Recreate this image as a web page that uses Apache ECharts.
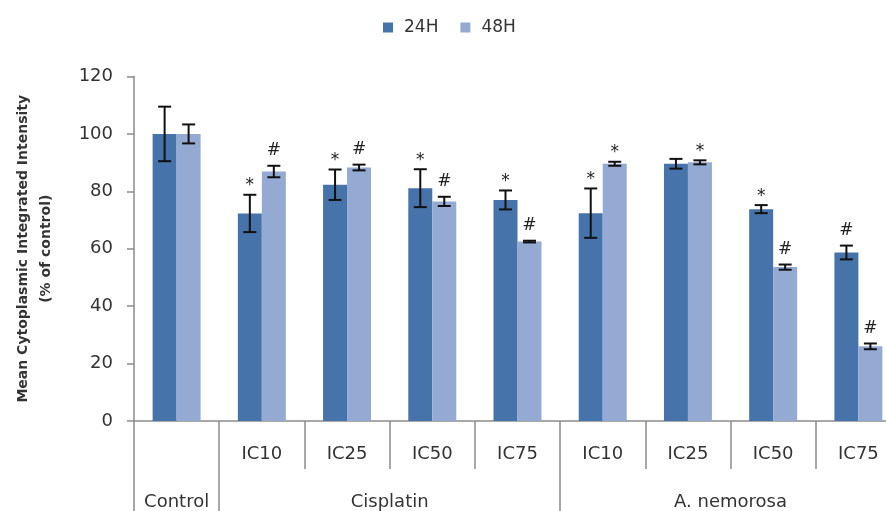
<!DOCTYPE html>
<html>
<head>
<meta charset="utf-8">
<script src="https://cdn.jsdelivr.net/npm/echarts@6/dist/echarts.min.js"></script>
<style>html,body{margin:0;padding:0;background:#fff;overflow:hidden}#c{width:901px;height:511px}</style>
</head>
<body>
<div id="c"></div>
<script>
const categories = ['Control','IC10','IC25','IC50','IC75','IC10','IC25','IC50','IC75'];
const tickLabels = ['', 'IC10','IC25','IC50','IC75','IC10','IC25','IC50','IC75'];
const groupNames = ['Control','Cisplatin','A. nemorosa'];
const groupSizes = [1, 4, 4];
const seriesNames = ['24H', '48H'];
const values24 = [100, 72.3, 82.3, 81.1, 77.0, 72.4, 89.6, 73.8, 58.7];
const err24    = [9.5, 6.5, 5.3, 6.6, 3.3, 8.6, 1.7, 1.4, 2.4];
const sig24    = ['', '*', '*', '*', '*', '*', '', '*', '#'];
const values48 = [100, 86.9, 88.3, 76.5, 62.5, 89.6, 90.1, 53.6, 26.0];
const err48    = [3.3, 2.0, 1.0, 1.6, 0.3, 0.7, 0.7, 0.9, 1.0];
const sig48    = ['', '#', '#', '#', '#', '*', '*', '#', '#'];
const yMin = 0, yMax = 120, yStep = 20;

const colors = ['#4673A9', '#94AAD2'];
const axisGray = '#8c8c8c';
const textColor = '#333';
const gapRatio = 0.437;

// group boundaries and centers derived from group sizes
const boundaries = [0];
groupSizes.forEach(s => boundaries.push(boundaries[boundaries.length - 1] + s));
const centers = groupSizes.map((s, i) => boundaries[i] + s / 2);

function errRender(sign, sigs) {
  return function (params, api) {
    const i = api.value(0), v = api.value(1), e = api.value(2);
    const band = api.size([1, 0])[0];
    const bw = band * (1 - gapRatio) / 2;
    const cx = api.coord([i, v])[0] + sign * bw / 2;
    const top = api.coord([i, v + e])[1];
    const bot = api.coord([i, v - e])[1];
    const cap = 6.5;
    const ls = { stroke: '#111', lineWidth: 2 };
    const children = [
      { type: 'line', shape: { x1: cx, y1: top, x2: cx, y2: bot }, style: ls },
      { type: 'line', shape: { x1: cx - cap, y1: top, x2: cx + cap, y2: top }, style: ls },
      { type: 'line', shape: { x1: cx - cap, y1: bot, x2: cx + cap, y2: bot }, style: ls }
    ];
    const s = sigs[params.dataIndex];
    if (s) {
      const isStar = s === '*';
      children.push({
        type: 'text',
        style: {
          text: s, x: cx, y: top - (isStar ? 9 : 15),
          align: 'center', verticalAlign: 'middle',
          fontFamily: 'DejaVu Sans', fontSize: 17,
          fill: '#222'
        }
      });
    }
    return { type: 'group', children };
  };
}

const chart = echarts.init(document.getElementById('c'), null, { renderer: 'canvas' });
chart.setOption({
  animation: false,
  color: colors,
  textStyle: { fontFamily: 'DejaVu Sans' },
  legend: {
    data: seriesNames,
    top: 14, left: 378,
    icon: 'rect', itemWidth: 10, itemHeight: 10, itemGap: 22,
    textStyle: { fontSize: 17, color: textColor, fontFamily: 'DejaVu Sans', padding: [0, 0, 0, 6] }
  },
  grid: { left: 134, top: 76.5, right: 0, height: 345 },
  xAxis: [
    {
      type: 'category', data: tickLabels,
      axisLine: { show: true, lineStyle: { color: axisGray, width: 1.5 } },
      axisTick: { show: true, interval: 0, length: 48, lineStyle: { color: axisGray, width: 1.5 } },
      axisLabel: { interval: 0, margin: 24, fontSize: 18, color: textColor, fontFamily: 'DejaVu Sans' },
      splitLine: { show: false }
    },
    {
      type: 'value', min: 0, max: categories.length, position: 'bottom',
      axisLine: { show: false },
      axisTick: { show: true, customValues: boundaries, length: 92, lineStyle: { color: axisGray, width: 1.5 } },
      axisLabel: {
        show: true, customValues: centers, margin: 72, fontSize: 18, color: textColor, fontFamily: 'DejaVu Sans',
        formatter: function (v) {
          const idx = centers.findIndex(c => Math.abs(c - v) < 1e-6);
          return idx >= 0 ? groupNames[idx] : '';
        }
      },
      splitLine: { show: false }
    }
  ],
  yAxis: {
    type: 'value', min: yMin, max: yMax, interval: yStep,
    name: 'Mean Cytoplasmic Integrated Intensity\n(% of control)',
    nameLocation: 'middle', nameGap: 76, nameRotate: 90,
    nameTextStyle: { fontSize: 14, fontWeight: 'bold', color: textColor, lineHeight: 23, fontFamily: 'DejaVu Sans' },
    axisLine: { show: true, lineStyle: { color: axisGray, width: 1.5 } },
    axisTick: { show: true, length: 7, lineStyle: { color: axisGray, width: 1.5 } },
    axisLabel: { fontSize: 18, color: textColor, margin: 21, fontFamily: 'DejaVu Sans' },
    splitLine: { show: false }
  },
  series: [
    { name: seriesNames[0], type: 'bar', data: values24, barGap: '0%', barCategoryGap: (gapRatio * 100) + '%', z: 2 },
    { name: seriesNames[1], type: 'bar', data: values48, barGap: '0%', barCategoryGap: (gapRatio * 100) + '%', z: 2 },
    {
      type: 'custom', renderItem: errRender(-1, sig24), z: 5,
      data: values24.map((v, i) => [i, v, err24[i]]), encode: { x: 0, y: 1 }, silent: true
    },
    {
      type: 'custom', renderItem: errRender(1, sig48), z: 5,
      data: values48.map((v, i) => [i, v, err48[i]]), encode: { x: 0, y: 1 }, silent: true
    }
  ]
});
</script>
</body>
</html>
